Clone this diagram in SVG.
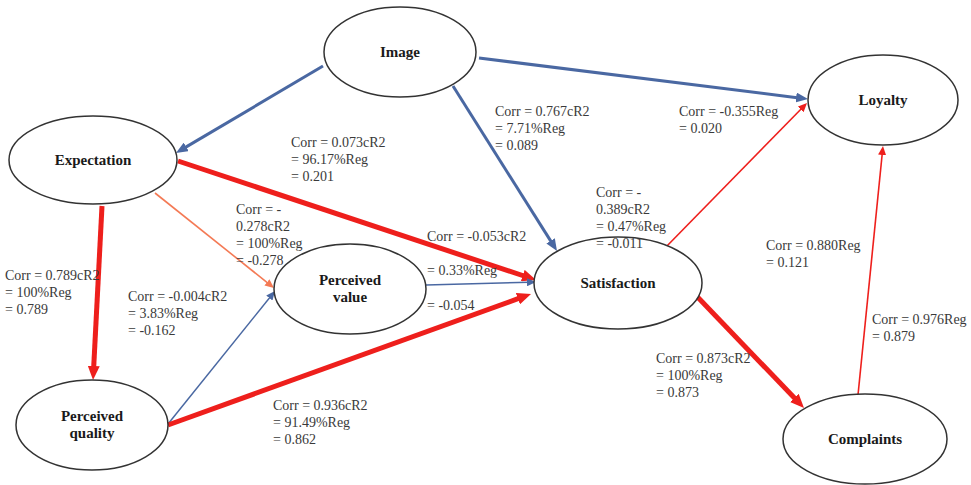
<svg xmlns="http://www.w3.org/2000/svg" width="971" height="485" viewBox="0 0 971 485">
  <defs>
    <style>
      .node ellipse { fill: #ffffff; stroke: #333333; stroke-width: 1.5; }
      .node text { font-family: "Liberation Serif", "Times New Roman", serif; font-weight: bold; font-size: 15px; fill: #1a1a1a; text-anchor: middle; }
      .lbl { font-family: "Liberation Serif", "Times New Roman", serif; font-size: 14px; fill: #3a3a3a; }
      .edge { fill: none; stroke-linecap: butt; }
      .red-thick { stroke: #ee1f1c; stroke-width: 5; }
      .blue { stroke: #4a68a2; stroke-width: 3; }
      .blue-thin { stroke: #4a68a2; stroke-width: 1.5; }
      .red-thin { stroke: #ee1f1c; stroke-width: 1.6; }
      .orange-thin { stroke: #f47a55; stroke-width: 1.6; }
    </style>
    <marker id="ahRedThick" markerUnits="userSpaceOnUse" markerWidth="14" markerHeight="12" refX="3" refY="6" orient="auto" viewBox="0 0 14 12">
      <path d="M0,0 L14,6 L0,12 Z" fill="#ee1f1c"/>
    </marker>
    <marker id="ahBlue" markerUnits="userSpaceOnUse" markerWidth="12" markerHeight="10" refX="3" refY="5" orient="auto" viewBox="0 0 12 10">
      <path d="M0,0 L12,5 L0,10 Z" fill="#4a68a2"/>
    </marker>
    <marker id="ahBlueThin" markerUnits="userSpaceOnUse" markerWidth="9" markerHeight="8" refX="2" refY="4" orient="auto" viewBox="0 0 9 8">
      <path d="M0,0 L9,4 L0,8 Z" fill="#4a68a2"/>
    </marker>
    <marker id="ahRedThin" markerUnits="userSpaceOnUse" markerWidth="9" markerHeight="8" refX="2" refY="4" orient="auto" viewBox="0 0 9 8">
      <path d="M0,0 L9,4 L0,8 Z" fill="#ee1f1c"/>
    </marker>
    <marker id="ahOrange" markerUnits="userSpaceOnUse" markerWidth="9" markerHeight="8" refX="2" refY="4" orient="auto" viewBox="0 0 9 8">
      <path d="M0,0 L9,4 L0,8 Z" fill="#f47a55"/>
    </marker>
  </defs>

  <rect width="971" height="485" fill="#ffffff"/>

  <!-- connectors -->
  <g id="connectors">
    <line class="edge blue" x1="323" y1="66" x2="183.7" y2="148.4" marker-end="url(#ahBlue)"/>
    <line class="edge blue" x1="453" y1="86" x2="552.2" y2="243.4" marker-end="url(#ahBlue)"/>
    <line class="edge blue" x1="479" y1="58" x2="799.1" y2="97.9" marker-end="url(#ahBlue)"/>
    <line class="edge red-thick" x1="178" y1="161" x2="525.6" y2="276.5" marker-end="url(#ahRedThick)"/>
    <line class="edge orange-thin" x1="155" y1="193" x2="268.5" y2="283.6" marker-end="url(#ahOrange)"/>
    <line class="edge red-thick" x1="102" y1="206" x2="93.6" y2="369" marker-end="url(#ahRedThick)"/>
    <line class="edge blue-thin" x1="168" y1="424" x2="270.6" y2="296.5" marker-end="url(#ahBlueThin)"/>
    <line class="edge red-thick" x1="168" y1="425" x2="520.7" y2="297.7" marker-end="url(#ahRedThick)"/>
    <line class="edge blue-thin" x1="426" y1="285" x2="529" y2="282.2" marker-end="url(#ahBlueThin)"/>
    <line class="edge red-thin" x1="664" y1="249" x2="802.1" y2="108" marker-end="url(#ahRedThin)"/>
    <line class="edge red-thick" x1="687" y1="286" x2="796.4" y2="400.1" marker-end="url(#ahRedThick)"/>
    <line class="edge red-thin" x1="858" y1="395" x2="882.3" y2="153" marker-end="url(#ahRedThin)"/>
  </g>

  <!-- nodes -->
  <g id="image" class="node">
    <ellipse cx="400" cy="52" rx="76" ry="45"/>
    <text x="400" y="57">Image</text>
  </g>
  <g id="expectation" class="node">
    <ellipse cx="93" cy="160" rx="84" ry="44"/>
    <text x="93" y="165">Expectation</text>
  </g>
  <g id="loyalty" class="node">
    <ellipse cx="883" cy="100" rx="75" ry="45"/>
    <text x="883" y="105">Loyalty</text>
  </g>
  <g id="perceived-value" class="node">
    <ellipse cx="350" cy="289" rx="76" ry="45"/>
    <text x="350" y="285">Perceived</text>
    <text x="350" y="302">value</text>
  </g>
  <g id="satisfaction" class="node">
    <ellipse cx="618" cy="283" rx="84" ry="46"/>
    <text x="618" y="288">Satisfaction</text>
  </g>
  <g id="perceived-quality" class="node">
    <ellipse cx="92" cy="425" rx="76" ry="45"/>
    <text x="92" y="421">Perceived</text>
    <text x="92" y="438">quality</text>
  </g>
  <g id="complaints" class="node">
    <ellipse cx="865" cy="439" rx="82" ry="45"/>
    <text x="865" y="444">Complaints</text>
  </g>

  <!-- path coefficients -->
  <g id="labels" class="lbl">
    <text x="291" y="147">Corr = 0.073cR2</text>
    <text x="291" y="164">= 96.17%Reg</text>
    <text x="291" y="181">= 0.201</text>

    <text x="236" y="214">Corr = -</text>
    <text x="236" y="231">0.278cR2</text>
    <text x="236" y="248">= 100%Reg</text>
    <text x="236" y="265">= -0.278</text>

    <text x="495" y="116">Corr = 0.767cR2</text>
    <text x="495" y="133">= 7.71%Reg</text>
    <text x="495" y="150">= 0.089</text>

    <text x="679" y="116">Corr = -0.355Reg</text>
    <text x="679" y="133">= 0.020</text>

    <text x="596" y="197">Corr = -</text>
    <text x="596" y="214">0.389cR2</text>
    <text x="596" y="231">= 0.47%Reg</text>
    <text x="596" y="248">= -0.011</text>

    <text x="427" y="241">Corr = -0.053cR2</text>
    <text x="427" y="275">= 0.33%Reg</text>
    <text x="427" y="310">= -0.054</text>

    <text x="5" y="280">Corr = 0.789cR2</text>
    <text x="5" y="297">= 100%Reg</text>
    <text x="5" y="314">= 0.789</text>

    <text x="128" y="301">Corr = -0.004cR2</text>
    <text x="128" y="318">= 3.83%Reg</text>
    <text x="128" y="335">= -0.162</text>

    <text x="273" y="410">Corr = 0.936cR2</text>
    <text x="273" y="427">= 91.49%Reg</text>
    <text x="273" y="444">= 0.862</text>

    <text x="766" y="250">Corr = 0.880Reg</text>
    <text x="766" y="267">= 0.121</text>

    <text x="872" y="324">Corr = 0.976Reg</text>
    <text x="872" y="341">= 0.879</text>

    <text x="656" y="363">Corr = 0.873cR2</text>
    <text x="656" y="380">= 100%Reg</text>
    <text x="656" y="397">= 0.873</text>
  </g>
</svg>
